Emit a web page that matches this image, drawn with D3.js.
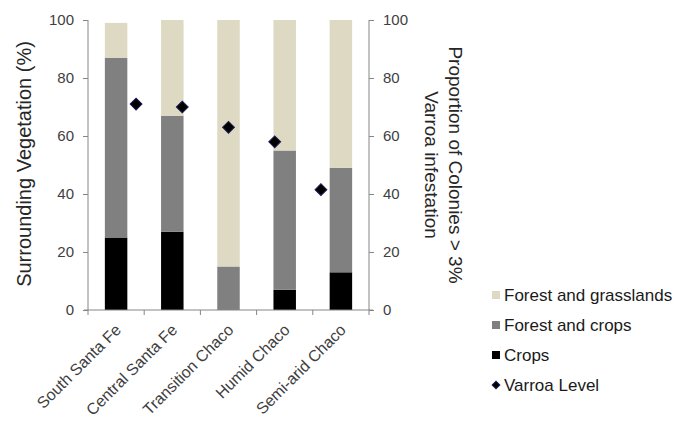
<!DOCTYPE html>
<html><head><meta charset="utf-8">
<script src="https://cdn.jsdelivr.net/npm/d3@7"></script>
<style>body{margin:0;background:#fff}svg{display:block}</style>
</head><body>
<svg id="c" width="686" height="422"></svg>
<script>
const categories = ["South Santa Fe","Central Santa Fe","Transition Chaco","Humid Chaco","Semi-arid Chaco"];
const crops = [25,27,0,7,13];
const forestCrops = [62,40,15,48,36];
const forestGrass = [12,33,85,45,51];
const varroa = [71,70,63,58,41.5];
const yTicks = [0,20,40,60,80,100];
const seriesNames = ["Forest and grasslands","Forest and crops","Crops","Varroa Level"];
const seriesColors = ["#ddd9c3","#808080","#000000"];

const svg = d3.select("#c");
const L = 88, R = 369, T = 20, B = 310;
const axisColor = "#868686", font = "Liberation Sans, Arial, sans-serif";

const x = d3.scaleBand().domain(categories).range([L,R]).paddingInner(0.6).paddingOuter(0.3);
const xp = d3.scalePoint().domain(categories).range([L,R]).padding(1.04);
const y = d3.scaleLinear().domain([0,100]).range([B,T]);
const y2 = d3.scaleLinear().domain([0,100]).range([B,T]);

const rows = categories.map((c,i)=>({cat:c, crops:crops[i], fc:forestCrops[i], fg:forestGrass[i]}));
const stack = d3.stack().keys(["crops","fc","fg"])(rows);
const keyColor = {crops:seriesColors[2], fc:seriesColors[1], fg:seriesColors[0]};

svg.append("g").selectAll("g").data(stack).join("g")
  .attr("fill", d=>keyColor[d.key])
  .selectAll("rect").data(d=>d).join("rect")
  .attr("x", d=>x(d.data.cat)).attr("width", x.bandwidth())
  .attr("y", d=>y(d[1])).attr("height", d=>y(d[0])-y(d[1]));

// left axis
const ga = svg.append("g").attr("transform",`translate(${L},0)`)
  .call(d3.axisLeft(y).tickValues(yTicks).tickSize(5).tickPadding(9));
// right axis
const gb = svg.append("g").attr("transform",`translate(${R},0)`)
  .call(d3.axisRight(y2).tickValues(yTicks).tickSize(5).tickPadding(9));
[ga,gb].forEach(g=>{
  g.select(".domain").attr("stroke",axisColor).attr("d",`M0,${T}V${B}`);
  g.selectAll(".tick line").attr("stroke",axisColor);
  g.selectAll("text").attr("font-family",font).attr("font-size",15).attr("fill","#404040");
});
// bottom axis
const gx = svg.append("g");
gx.append("line").attr("x1",L-4).attr("x2",R+4).attr("y1",B).attr("y2",B).attr("stroke",axisColor);
d3.range(categories.length+1).forEach(i=>{
  const xx = L + i*x.step();
  gx.append("line").attr("x1",xx).attr("x2",xx).attr("y1",B).attr("y2",B+5).attr("stroke",axisColor);
});
gx.selectAll("text.cat").data(categories).join("text").attr("class","cat")
  .attr("transform", d=>`translate(${x(d)+x.bandwidth()/2+6},${B+21}) rotate(-45)`)
  .attr("text-anchor","end").attr("font-family",font).attr("font-size",16).attr("fill","#404040")
  .text(d=>d);

// varroa diamonds
svg.append("g").selectAll("path").data(varroa).join("path")
  .attr("d", d3.symbol().type(d3.symbolSquare).size(70))
  .attr("transform",(d,i)=>`translate(${xp(categories[i])},${y2(d)}) rotate(45)`)
  .attr("fill","#000").attr("stroke","#1f1a50").attr("stroke-width",1);

// titles
svg.append("text").attr("transform",`translate(31,${(T+B)/2-1}) rotate(-90)`)
  .attr("text-anchor","middle").attr("font-family",font).attr("font-size",20).attr("fill","#262626")
  .text("Surrounding Vegetation (%)");
const t2 = svg.append("text").attr("transform",`translate(449,${(T+B)/2}) rotate(90)`)
  .attr("text-anchor","middle").attr("font-family",font).attr("font-size",19).attr("fill","#262626");
t2.append("tspan").attr("x",0).attr("dy",0).text("Proportion of Colonies > 3%");
t2.append("tspan").attr("x",0).attr("dy",24).text("Varroa infestation");

// legend
const lg = svg.append("g").attr("transform","translate(492,295)");
seriesNames.forEach((n,i)=>{
  const g = lg.append("g").attr("transform",`translate(0,${i*30})`);
  if(i<3){
    g.append("rect").attr("x",0).attr("y",-4).attr("width",8).attr("height",8).attr("fill",seriesColors[i]);
  } else {
    g.append("path").attr("d",d3.symbol().type(d3.symbolSquare).size(30)).attr("transform","translate(4,0) rotate(45)")
      .attr("fill","#000").attr("stroke","#1f1a50");
  }
  g.append("text").attr("x",12).attr("y",0).attr("dy","0.35em").attr("font-family",font).attr("font-size",17).attr("fill","#1a1a1a").text(n);
});
</script>
</body></html>
